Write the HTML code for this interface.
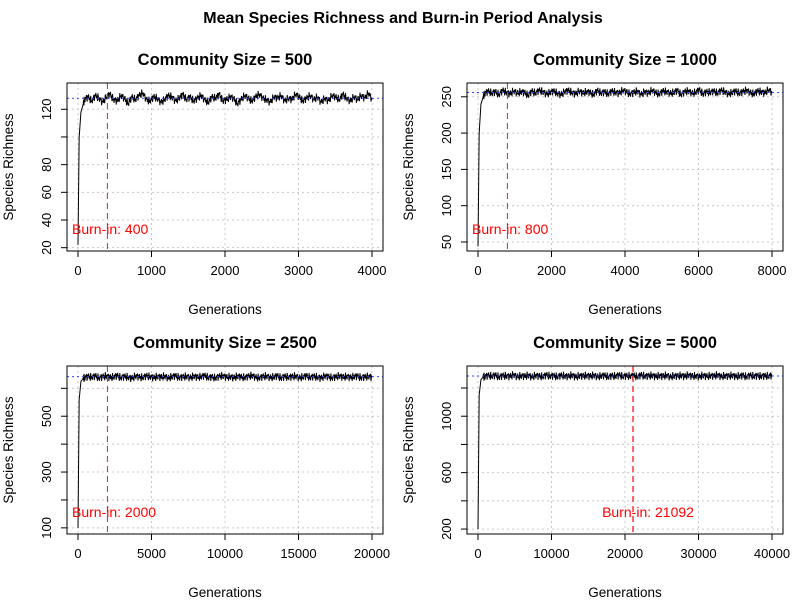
<!DOCTYPE html>
<html><head><meta charset="utf-8"><style>
html,body{margin:0;padding:0;background:#fff;}
svg{display:block;font-family:"Liberation Sans",Arial,sans-serif;}
</style></head><body>
<svg id="chart" width="800" height="600" viewBox="0 0 800 600">
<rect width="800" height="600" fill="#fff"/>
<text x="403" y="23" text-anchor="middle" font-size="16" font-weight="bold">Mean Species Richness and Burn-in Period Analysis</text>
</svg>
<script>
const titles=["Community Size = 500","Community Size = 1000","Community Size = 2500","Community Size = 5000"];
const burnIns=[400,800,2000,21092];
const equilibria=[128,256,642,1285];
const xTicks1=[0,1000,2000,3000,4000];
const xTicks2=[0,2000,4000,6000,8000];
const xTicks3=[0,5000,10000,15000,20000];
const xTicks4=[0,10000,20000,30000,40000];
const yTicks1=[20,40,60,80,100,120];
const yLabels1=["20","40","60","80","","120"];
const yTicks2=[50,100,150,200,250];
const yLabels2=["50","100","150","200","250"];
const yTicks3=[100,200,300,400,500,600];
const yLabels3=["100","","300","","500",""];
const yTicks4=[200,400,600,800,1000,1200];
const yLabels4=["200","","600","","1000",""];
const head1=[22,100,118,124];
const head2=[44,200,240,250];
const head3=[100,560,625,636];
const head4=[200,1150,1260,1280];
const noise1=[127,129,126,130,128,125,129,131,127,126,130,128,124,129,127,130,132,127,126,129,128,125,127,130,129,126,128,131,127,129,126,128,130,127,125,129,128,131,126,127,129,128,124,127,130,128,126,129,131,128,127,125,129,128,130,126,128,127,131,129,126,128,130,127,129,125,128,126,130,129,127,131,128,126,129,127,130,128,132,127];
const noise2=[254,258,255,257,253,259,256,254,258,255,257,256,252,258,255,259,257,254,256,258,255,253,257,259,256,254,258,255,257,256,253,259,255,257,254,258,256,255,259,257,254,256,258,253,257,255,259,256,254,258,257,255,256,259,253,257,258,255,256,260,254,257,256,258,255,259,257,254,256,258,255,257,259,256,254,258,257,255,260,256];
const noise3=[638,643,640,645,637,642,644,639,641,646,638,643,640,636,644,641,639,645,642,638,643,640,644,637,642,645,639,641,643,638,644,640,642,646,639,641,637,643,645,640,642,638,644,641,639,643,646,640,638,642,644,639,641,645,637,643,640,642,644,638,641,645,639,643,640,637,644,642,638,641,645,640,643,639,642,644,638,641,643,640];
const noise4=[1280,1290,1284,1292,1278,1288,1286,1282,1294,1280,1287,1283,1291,1279,1289,1285,1281,1293,1284,1288,1280,1290,1286,1282,1292,1278,1287,1285,1289,1283,1291,1281,1286,1290,1279,1288,1284,1292,1282,1287,1285,1289,1280,1293,1284,1286,1290,1281,1288,1283,1291,1279,1287,1285,1289,1282,1292,1284,1286,1280,1290,1283,1288,1285,1293,1281,1287,1284,1290,1282,1286,1289,1280,1291,1284,1288,1283,1287,1285,1290];
const NS="http://www.w3.org/2000/svg";
const svg=document.getElementById('chart');
function mk(t,a,p){const e=document.createElementNS(NS,t);for(const k in a)e.setAttribute(k,a[k]);(p||svg).appendChild(e);return e;}
const jit=[-3,2,-1,4,-4,1,3,-2,0,-3,4,-1];
const panels=[
 {ox:0,oy:0,xmax:4000,ymin:17.6,ymax:139,xt:xTicks1,yt:yTicks1,yl:yLabels1,head:head1,noise:noise1,lblCenter:false,col:"#b33"},
 {ox:400,oy:0,xmax:8000,ymin:37.6,ymax:269,xt:xTicks2,yt:yTicks2,yl:yLabels2,head:head2,noise:noise2,lblCenter:false,col:"#b33"},
 {ox:0,oy:283,xmax:20000,ymin:78,ymax:680,xt:xTicks3,yt:yTicks3,yl:yLabels3,head:head3,noise:noise3,lblCenter:false,col:"#b33"},
 {ox:400,oy:283,xmax:40000,ymin:165,ymax:1356,xt:xTicks4,yt:yTicks4,yl:yLabels4,head:head4,noise:noise4,lblCenter:true,col:"#f33"}
];
panels.forEach((p,i)=>{
 const g=mk('g',{});
 
 
 const L=p.ox+67,R=p.ox+383,T=p.oy+83,B=p.oy+251;
 const x0=p.ox+78,x1=p.ox+372;
 const sx=v=>x0+(v/p.xmax)*(x1-x0);
 const sy=v=>B-(v-p.ymin)/(p.ymax-p.ymin)*(B-T);
 const t=mk('text',{x:p.ox+225,y:p.oy+65,'text-anchor':'middle','font-size':16.5,'font-weight':'bold'},g);t.textContent=titles[i];
 
 
 p.xt.forEach(v=>{
  const gl=mk('line',{x1:sx(v),x2:sx(v),y1:T,y2:B,stroke:'#c8c8c8','stroke-dasharray':'2,3'},g);
  
  
  mk('line',{x1:sx(v),x2:sx(v),y1:B,y2:B+6,stroke:'#000'},g);
  const tl=mk('text',{x:sx(v),y:p.oy+275,'text-anchor':'middle','font-size':13},g);tl.textContent=v;
  
  
 });
 p.yt.forEach((v,j)=>{
  const gl=mk('line',{x1:L,x2:R,y1:sy(v),y2:sy(v),stroke:'#c8c8c8','stroke-dasharray':'2,3'},g);
  
  
  mk('line',{x1:L-6,x2:L,y1:sy(v),y2:sy(v),stroke:'#000'},g);
  if(p.yl[j]){const tl=mk('text',{x:p.ox+51,y:sy(v),'text-anchor':'middle','font-size':13,transform:`rotate(-90 ${p.ox+51} ${sy(v)})`},g);tl.textContent=p.yl[j];
  
  }
 });
 const n=p.noise.length;
 const hx=[0,0.004,0.01,0.018].map(f=>f*p.xmax);
 const pts=p.head.map((v,k)=>[sx(hx[k]),sy(v)]);
 const st=0.022*p.xmax;
 p.noise.forEach((v,k)=>pts.push([sx(st+(p.xmax-st)*k/(n-1)),sy(v)]));
 let d='M'+pts[0].join(',');
 let c=0;
 for(let k=1;k<pts.length;k++){
  if(k>=4){const [ax,ay]=pts[k-1],[bx,by]=pts[k];
   for(let s=1;s<=6;s++){const xx=ax+(bx-ax)*s/7;const yy=ay+(by-ay)*s/7+jit[(c++)%jit.length];d+=' L'+xx.toFixed(1)+','+yy.toFixed(1);}}
  d+=' L'+pts[k].join(',');
 }
 const ln=mk('path',{d:d,fill:'none',stroke:'#000','stroke-width':1},g);
 
 
 const eq=mk('line',{x1:L,x2:R,y1:sy(equilibria[i]),y2:sy(equilibria[i]),stroke:'#3344ff','stroke-dasharray':'2,3'},g);
 
 
 const bl=mk('line',{x1:sx(burnIns[i]),x2:sx(burnIns[i]),y1:T,y2:B,stroke:p.col,'stroke-dasharray':'6,4','stroke-width':i==3?1.5:1},g);
 
 
 const bt=mk('text',{x:p.lblCenter?sx(burnIns[i])+15:p.ox+72,y:p.oy+234,'text-anchor':p.lblCenter?'middle':'start','font-size':14,fill:'#f00'},g);bt.textContent='Burn-in: '+burnIns[i];
 
 
 const box=mk('rect',{x:L,y:T,width:R-L,height:B-T,fill:'none',stroke:'#000'},g);
 
 
 const xl=mk('text',{x:p.ox+225,y:p.oy+314,'text-anchor':'middle','font-size':13.5},g);xl.textContent='Generations';
 
 
 const cy=(T+B)/2,cx=p.ox+13;
 const yl=mk('text',{x:cx,y:cy,'text-anchor':'middle','font-size':13.5,transform:`rotate(-90 ${cx} ${cy})`},g);yl.textContent='Species Richness';
 
 
});
</script>
</body></html>
